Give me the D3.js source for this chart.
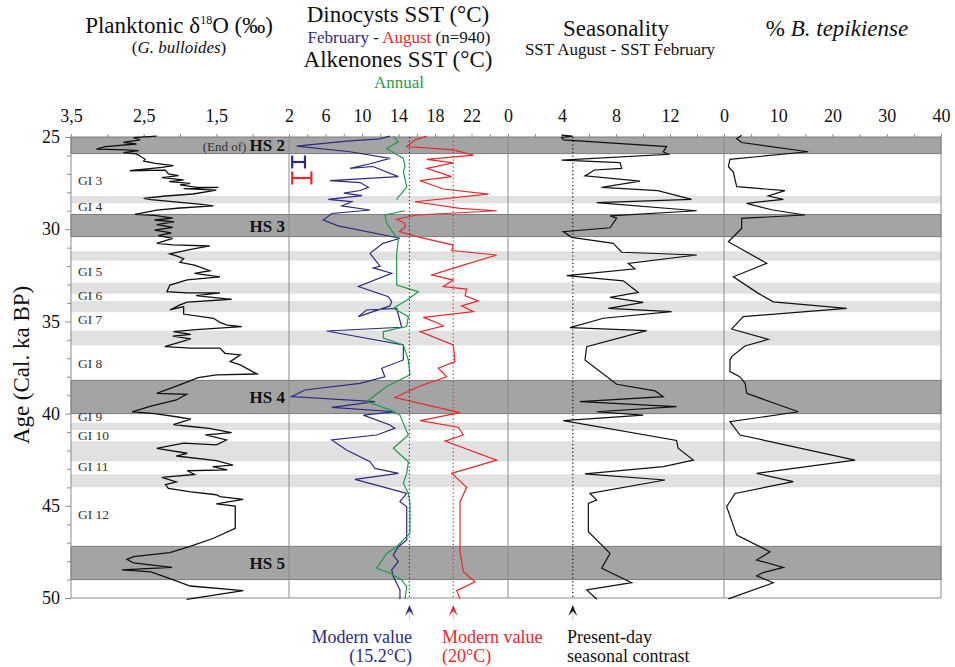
<!DOCTYPE html>
<html><head><meta charset="utf-8">
<script src="https://cdn.jsdelivr.net/npm/d3@7"></script>
<style>
body{margin:0;background:#fff;}
text{font-family:"Liberation Serif","Times New Roman",serif;}
</style></head>
<body><svg id="c" width="955" height="667"></svg>
<script>
// ---------- DATA ----------
// Planktonic d18O (G. bulloides): [age ka, permil]
const d18O = [[24.95,2.32],[25.03,2.64],[25.16,2.55],[25.29,2.78],[25.38,2.6],[25.52,3.03],[25.66,3.15],[25.7,2.74],[25.74,2.57],[25.85,2.78],[25.92,2.6],[26.03,2.55],[26.21,2.48],[26.3,2.5],[26.43,2.34],[26.5,2.2],[26.55,2.09],[26.65,2.25],[26.83,2.69],[26.8,2.2],[27.0,2.16],[27.1,2.02],[27.2,2.25],[27.33,1.95],[27.42,2.15],[27.51,1.86],[27.6,2.0],[27.73,1.77],[27.73,1.47],[27.8,1.95],[27.88,1.5],[28.09,1.82],[28.2,2.2],[28.33,2.5],[28.4,2.4],[28.65,1.7],[28.74,1.54],[28.85,2.0],[28.96,2.32],[29.2,2.62],[29.25,2.35],[29.4,2.1],[29.5,2.35],[29.6,2.08],[29.75,2.32],[29.9,2.1],[30.05,2.35],[30.2,2.12],[30.35,2.3],[30.5,2.1],[30.77,2.32],[30.85,2.1],[30.91,1.59],[31.1,1.85],[31.34,2.14],[31.45,2.05],[31.6,1.95],[31.8,2.0],[31.95,1.8],[32.25,1.59],[32.4,1.8],[32.58,1.45],[32.75,1.9],[33.03,2.14],[33.39,2.18],[33.45,1.9],[33.45,1.45],[33.6,1.78],[33.8,1.29],[33.95,1.9],[34.1,2.0],[34.38,2.14],[34.2,1.95],[34.6,1.95],[34.83,1.54],[35.05,1.45],[35.2,1.35],[35.28,1.15],[35.45,1.78],[35.56,2.09],[35.7,1.85],[35.8,2.1],[35.95,1.85],[36.37,2.21],[36.45,1.85],[36.45,1.45],[36.73,1.38],[36.82,1.17],[37.18,1.31],[37.36,1.17],[37.85,0.94],[37.9,1.5],[38.05,1.75],[38.36,1.95],[38.9,2.32],[38.96,1.91],[39.26,2.05],[39.6,2.4],[39.9,2.66],[40.0,2.35],[40.17,2.05],[40.3,1.85],[40.6,2.09],[40.7,1.85],[40.8,1.6],[41.03,1.29],[41.15,1.65],[41.43,1.36],[41.7,1.5],[41.6,1.95],[41.88,2.32],[42.15,1.9],[42.3,2.05],[42.55,1.5],[42.79,1.27],[42.88,1.55],[43.05,1.35],[43.1,1.9],[43.3,1.8],[43.46,2.25],[43.7,2.05],[43.85,2.2],[44.06,2.16],[44.25,1.85],[44.4,1.5],[44.5,1.45],[44.65,1.13],[44.9,1.5],[45.01,1.24],[46.22,1.24],[46.76,1.54],[47.2,1.86],[47.54,2.14],[47.76,2.64],[47.9,2.73],[48.1,2.64],[48.34,2.11],[48.48,2.8],[48.58,2.4],[49.02,2.09],[49.35,1.86],[49.6,1.13],[50.07,1.91]];

// Dinocyst SST February (deg C)
const sstFeb = [[24.95,13.07],[25.1,11.97],[25.22,8.3],[25.49,2.84],[25.8,8.68],[26.16,13.07],[26.45,10.9],[26.7,8.68],[26.6,11.2],[27.15,13.98],[27.37,6.49],[27.47,9.8],[27.73,10.7],[27.9,9.8],[28.04,8.0],[28.18,10.0],[28.38,6.3],[28.5,8.9],[28.74,7.8],[28.96,10.88],[29.15,6.7],[29.5,5.76],[29.82,7.4],[30.49,14.16],[30.77,12.3],[31.31,10.88],[32.0,11.97],[32.1,11.24],[32.39,13.25],[33.11,9.6],[33.66,12.9],[33.93,13.25],[34.16,13.07],[34.74,9.6],[34.38,10.5],[34.3,13.8],[35.32,14.35],[35.52,6.13],[36.28,14.53],[37.09,14.53],[37.54,12.16],[38.0,12.5],[38.36,9.78],[38.72,3.75],[39.08,2.29],[39.35,11.42],[39.66,6.68],[39.9,13.6],[40.08,10.15],[40.62,13.07],[40.8,13.6],[41.16,11.6],[41.43,6.68],[41.97,8.3],[42.61,10.88],[42.97,11.42],[43.24,14.0],[43.57,9.23],[44.33,14.9],[44.78,14.16],[45.05,14.9],[46.86,14.9],[47.22,13.98],[47.67,13.43],[48.03,13.98],[48.48,13.25],[48.84,13.43],[49.56,14.16],[50.05,14.16]];

// Dinocyst SST August (deg C)
const sstAug = [[24.95,17.09],[25.16,15.8],[25.52,14.9],[25.7,20.0],[25.98,22.2],[26.21,17.09],[26.4,20.0],[26.7,17.09],[27.15,19.83],[27.37,16.36],[27.82,18.9],[28.1,23.84],[28.51,15.8],[28.87,20.74],[29.0,24.76],[29.23,15.99],[29.46,13.8],[29.68,14.7],[29.9,14.7],[30.13,14.1],[30.44,16.36],[30.86,20.0],[31.16,19.83],[31.4,24.76],[32.0,20.74],[32.48,17.64],[32.76,20.0],[33.11,18.9],[33.25,21.47],[33.61,21.3],[33.89,22.75],[34.16,20.9],[34.47,22.2],[34.78,16.72],[35.1,18.36],[35.25,18.9],[35.55,16.36],[36.28,20.0],[37.18,20.19],[37.54,18.36],[38.0,19.28],[38.5,16.36],[39.13,13.62],[39.95,20.74],[40.38,16.36],[40.74,20.55],[41.16,21.1],[41.49,19.1],[42.52,24.76],[43.24,19.83],[44.0,21.47],[44.78,20.74],[47.49,20.74],[48.57,21.1],[49.12,22.38],[49.6,20.38],[50.05,20.74]];

// Alkenone SST annual (deg C); null = gap
const sstAlk = [[24.95,13.43],[25.26,13.98],[25.62,12.71],[25.9,13.62],[26.16,14.53],[26.6,14.71],[26.88,14.53],[27.7,14.9],[28.06,14.35],[28.24,13.98],[28.42,13.8],[28.7,null],[29.0,14.71],[29.23,12.52],[29.68,12.7],[30.58,13.98],[31.3,13.8],[33.03,13.8],[33.39,16.17],[33.85,14.9],[34.29,13.43],[34.74,15.08],[35.28,14.9],[35.55,12.34],[35.9,12.34],[36.28,14.53],[37.1,15.08],[37.9,15.26],[38.53,12.7],[39.35,10.52],[39.8,13.07],[40.08,14.16],[40.53,14.53],[41.16,15.08],[41.88,13.43],[42.61,15.08],[43.24,14.9],[43.78,14.53],[44.33,15.08],[44.87,15.26],[46.49,15.26],[47.22,13.8],[47.58,12.7],[48.39,11.6],[48.66,13.07],[49.02,14.35],[49.38,14.9],[50.05,14.71]];

// Seasonality (SST Aug - SST Feb)
const seasonality = [[24.9,3.97],[24.95,4.79],[25.02,3.97],[25.16,4.1],[25.52,11.75],[25.8,11.5],[25.94,11.88],[26.25,3.97],[26.39,8.3],[26.7,8.42],[26.79,6.4],[27.11,5.7],[27.39,9.78],[27.73,6.94],[27.91,11.1],[28.38,13.6],[28.56,6.57],[29.0,13.98],[29.28,7.56],[29.4,8.05],[29.92,7.56],[30.13,4.1],[30.44,4.72],[30.77,7.8],[31.25,8.42],[31.4,13.98],[31.85,8.9],[32.15,9.41],[32.52,4.35],[32.8,8.54],[33.43,9.65],[33.7,7.56],[33.97,10.02],[34.29,7.43],[34.47,12.12],[34.83,7.06],[35.34,4.59],[35.5,10.27],[36.37,5.83],[37.09,5.7],[38.41,8.05],[38.77,10.9],[39.08,11.5],[39.35,5.33],[39.62,12.49],[39.9,6.57],[40.08,10.02],[40.38,4.1],[41.46,12.49],[41.88,12.6],[42.52,13.73],[42.88,11.5],[43.27,5.7],[43.6,11.63],[44.33,6.07],[44.69,6.57],[44.87,5.95],[46.41,5.95],[47.58,7.56],[48.39,6.94],[49.17,9.16],[49.56,5.83],[50.07,6.57]];

// % Bitectatodinium tepikiense
const tepikiense = [[24.9,3.26],[25.1,2.34],[25.3,3.26],[25.8,15.5],[26.21,1.1],[26.6,0.8],[26.9,1.72],[27.69,2.34],[27.91,11.24],[28.2,8.17],[28.38,10.94],[28.6,4.18],[28.96,9.0],[29.23,14.93],[29.41,3.26],[29.96,3.26],[30.68,0.8],[31.85,7.87],[32.58,1.72],[33.48,6.33],[33.94,9.09],[34.29,22.62],[34.74,3.56],[35.41,1.41],[35.97,8.17],[36.33,3.87],[36.91,1.41],[37.09,1.1],[37.72,1.1],[38.0,2.9],[38.36,3.9],[38.9,4.18],[39.9,13.7],[40.44,1.1],[41.16,2.95],[42.52,24.15],[43.24,6.02],[43.69,12.78],[44.33,2.03],[45.05,0.49],[46.59,2.34],[47.49,8.48],[47.94,6.02],[48.34,10.94],[48.62,7.2],[48.8,6.02],[49.17,9.09],[50.05,0.8]];

// Heinrich stadials (dark bands) [top, bottom, label]
const hsBands = [[25.0,25.9,"HS 2"],[29.2,30.4,"HS 3"],[38.2,40.0,"HS 4"],[47.2,49.0,"HS 5"]];
// GI-related light bands [top, bottom]
const lightBands = [[28.2,28.6],[31.2,31.7],[32.9,33.5],[33.9,34.5],[35.5,36.3],[40.5,40.9],[41.5,42.6],[43.3,44.0]];
// Greenland interstadial labels [age, label]
const giLabels = [[27.4,"GI 3"],[28.8,"GI 4"],[32.3,"GI 5"],[33.6,"GI 6"],[34.9,"GI 7"],[37.3,"GI 8"],[40.2,"GI 9"],[41.2,"GI 10"],[42.9,"GI 11"],[45.5,"GI 12"]];

// reference values
const modernFeb = 15.2, modernAug = 20, presentSeason = 4.8;
const errFeb = 1.4, errAug = 2.1;

// tick values
const ageTicks = [25,30,35,40,45,50];
const d18Ticks = [3.5,2.5,1.5];
const sstTicks = [2,6,10,14,18,22];
const seasTicks = [0,4,8,12];
const tepTicks = [0,10,20,30,40];

// ---------- DRAW ----------
const svg = d3.select("#c");
const yTop = 137, yBot = 598, xLeft = 71, xRight = 941;
const y = d3.scaleLinear().domain([25,50]).range([yTop,yBot]);
const xD = d3.scaleLinear().domain([3.5,0.5]).range([71,289]);
const xS = d3.scaleLinear().domain([2,26]).range([289,508]);
const xSe = d3.scaleLinear().domain([0,16]).range([508,724]);
const xT = d3.scaleLinear().domain([0,40]).range([724,941]);

// bands
svg.append("g").selectAll("rect").data(lightBands).join("rect")
  .attr("x",xLeft).attr("width",xRight-xLeft)
  .attr("y",d=>y(d[0])).attr("height",d=>y(d[1])-y(d[0]))
  .attr("fill","#e1e1e1");
svg.append("g").selectAll("rect").data(hsBands).join("rect")
  .attr("x",xLeft).attr("width",xRight-xLeft)
  .attr("y",d=>y(d[0])).attr("height",d=>y(d[1])-y(d[0]))
  .attr("fill","#a4a4a4").attr("stroke","#7c7c7c").attr("stroke-width",1);

// panel lines
const gridCol="#8a8a8a";
[xLeft,289,508,724,xRight].forEach(xx=>{
  svg.append("line").attr("x1",xx).attr("x2",xx).attr("y1",yTop).attr("y2",yBot)
    .attr("stroke",gridCol).attr("stroke-width",1);
});
svg.append("line").attr("x1",xLeft).attr("x2",xRight).attr("y1",yBot).attr("y2",yBot)
  .attr("stroke",gridCol).attr("stroke-width",1.2);

// Y axis
const yAx = d3.axisLeft(y).tickValues(d3.range(25,51,1)).tickSize(4).tickPadding(7)
  .tickFormat(d=>ageTicks.includes(d)?d:"");
const ga = svg.append("g").attr("transform",`translate(${xLeft},0)`).call(yAx);
ga.select(".domain").remove();
ga.selectAll(".tick line").attr("stroke",gridCol).attr("x2",d=>ageTicks.includes(d)?-6:-4);
ga.selectAll(".tick text").attr("font-size",18).attr("font-family","Liberation Serif").attr("fill","#111");
svg.append("text").attr("transform",`translate(29,365) rotate(-90)`).attr("text-anchor","middle")
  .attr("font-size",23).attr("fill","#111").text("Age (Cal. ka BP)");

// top axes
function topAxis(scale, labels, minor, fmt){
  const ax = d3.axisTop(scale).tickValues(minor).tickSize(3).tickPadding(12)
    .tickFormat(d=>labels.includes(d)?fmt(d):"");
  const g = svg.append("g").attr("transform",`translate(0,${yTop})`).call(ax);
  g.select(".domain").remove();
  g.selectAll(".tick line").attr("stroke",gridCol);
  g.selectAll(".tick text").attr("font-size",18).attr("font-family","Liberation Serif").attr("fill","#111");
}
topAxis(xD,d18Ticks,[3.5,3,2.5,2,1.5,1],d=>String(d).replace(".",","));
topAxis(xS,sstTicks,[2,4,6,8,10,12,14,16,18,20,22,24],d=>d);
topAxis(xSe,seasTicks,[0,2,4,6,8,10,12,14],d=>d);
topAxis(xT,tepTicks,[0,5,10,15,20,25,30,35,40],d=>d);

// band labels
hsBands.forEach((b,i)=>{
  const t = svg.append("text").attr("x",285).attr("y",(y(b[0])+y(b[1]))/2+6)
    .attr("text-anchor","end").attr("font-size",17).attr("fill","#111");
  if(i===0){ t.append("tspan").attr("font-size",13).attr("fill","#333").text("(End of) "); }
  t.append("tspan").attr("font-weight","bold").text(b[2]);
});
svg.append("g").selectAll("text").data(giLabels).join("text")
  .attr("x",78).attr("y",d=>y(d[0])+4).attr("font-size",13.5).attr("fill","#333").text(d=>d[1]);

// lines
const line = (xs)=>d3.line().defined(d=>d[1]!==null).x(d=>xs(d[1])).y(d=>y(d[0]));
svg.append("path").datum(d18O).attr("d",line(xD)).attr("fill","none").attr("stroke","#111").attr("stroke-width",1.3);
svg.append("path").datum(sstFeb).attr("d",line(xS)).attr("fill","none").attr("stroke","#2b2a84").attr("stroke-width",1.2);
svg.append("path").datum(sstAug).attr("d",line(xS)).attr("fill","none").attr("stroke","#e8282b").attr("stroke-width",1.2);
svg.append("path").datum(sstAlk).attr("d",line(xS)).attr("fill","none").attr("stroke","#1f9a4a").attr("stroke-width",1.2);
svg.append("path").datum(seasonality).attr("d",line(xSe)).attr("fill","none").attr("stroke","#111").attr("stroke-width",1.2);
svg.append("path").datum(tepikiense).attr("d",line(xT)).attr("fill","none").attr("stroke","#111").attr("stroke-width",1.2);

// modern value dotted lines
const dots = [[xS(modernFeb),"#2b2a84"],[xS(modernAug),"#e8282b"],[xSe(presentSeason),"#111"]];
dots.forEach(d=>{
  svg.append("line").attr("x1",d[0]).attr("x2",d[0]).attr("y1",yTop).attr("y2",yBot)
    .attr("stroke",d[1]).attr("stroke-width",1.2).attr("stroke-dasharray","1.2,2.5");
  const ax=d[0], ay=605;
  svg.append("line").attr("x1",ax).attr("x2",ax).attr("y1",ay+6).attr("y2",ay+15).attr("stroke","#bbb").attr("stroke-width",0.8);
  svg.append("path").attr("d",`M${ax},${ay} L${ax+4.5},${ay+11} L${ax},${ay+6} L${ax-4.5},${ay+11} Z`).attr("fill",d[1]);
});

// error bars
function errBar(yy,len,col){
  const x0=xS(2.35), x1=xS(2.35+len);
  const g=svg.append("g").attr("stroke",col).attr("stroke-width",2.2);
  g.append("line").attr("x1",x0).attr("x2",x1).attr("y1",yy).attr("y2",yy);
  g.append("line").attr("x1",x0).attr("x2",x0).attr("y1",yy-6.5).attr("y2",yy+6.5);
  g.append("line").attr("x1",x1).attr("x2",x1).attr("y1",yy-6.5).attr("y2",yy+6.5);
}
errBar(162,errFeb,"#2b2a84");
errBar(178,errAug,"#e8282b");

// bottom notes
function note(x,anchor,col,l1,l2){
  svg.append("text").attr("x",x).attr("y",643).attr("text-anchor",anchor).attr("font-size",18).attr("fill",col).text(l1);
  svg.append("text").attr("x",x).attr("y",662).attr("text-anchor",anchor).attr("font-size",18).attr("fill",col).text(l2);
}
note(412,"end","#2b2a84","Modern value","(15.2°C)");
note(442,"start","#e8282b","Modern value","(20°C)");
note(567,"start","#111","Present-day","seasonal contrast");

// titles
const t1 = svg.append("text").attr("x",179).attr("y",33).attr("text-anchor","middle").attr("font-size",23).attr("fill","#111");
t1.append("tspan").text("Planktonic δ");
t1.append("tspan").attr("font-size",12).attr("dy",-9).text("18");
t1.append("tspan").attr("dy",9).text("O (‰)");
const t2 = svg.append("text").attr("x",179).attr("y",53).attr("text-anchor","middle").attr("font-size",17).attr("fill","#111");
t2.append("tspan").text("(");
t2.append("tspan").attr("font-style","italic").text("G. bulloides");
t2.append("tspan").text(")");

svg.append("text").attr("x",398).attr("y",22).attr("text-anchor","middle").attr("font-size",23).attr("fill","#111").text("Dinocysts SST (°C)");
const t3 = svg.append("text").attr("x",399).attr("y",43).attr("text-anchor","middle").attr("font-size",17).attr("fill","#111");
t3.append("tspan").attr("fill","#2b2a84").text("February");
t3.append("tspan").text(" - ");
t3.append("tspan").attr("fill","#e8282b").text("August");
t3.append("tspan").text(" (n=940)");
svg.append("text").attr("x",398).attr("y",67).attr("text-anchor","middle").attr("font-size",23).attr("fill","#111").text("Alkenones SST (°C)");
svg.append("text").attr("x",399).attr("y",88).attr("text-anchor","middle").attr("font-size",17).attr("fill","#1f9a4a").text("Annual");

svg.append("text").attr("x",616).attr("y",36).attr("text-anchor","middle").attr("font-size",23).attr("fill","#111").text("Seasonality");
svg.append("text").attr("x",620).attr("y",55).attr("text-anchor","middle").attr("font-size",17).attr("fill","#111").text("SST August - SST February");
const t4 = svg.append("text").attr("x",837).attr("y",36).attr("text-anchor","middle").attr("font-size",23).attr("fill","#111");
t4.append("tspan").text("% ");
t4.append("tspan").attr("font-style","italic").text("B. tepikiense");
</script></body></html>
